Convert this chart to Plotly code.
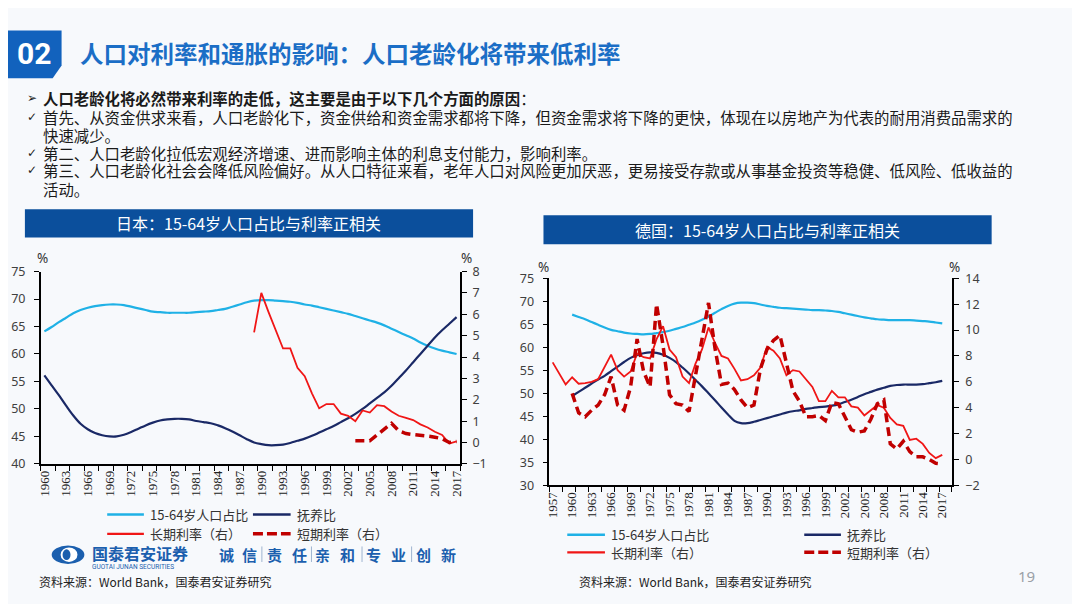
import plotly.graph_objects as go

# ---------------- data ----------------
jp_years = list(range(1960, 2018))
jp_working = [64.1, 64.9, 65.8, 66.6, 67.4, 68.0, 68.4, 68.7, 68.9, 69.0,
              69.0, 68.9, 68.6, 68.3, 68.0, 67.7, 67.6, 67.5, 67.5, 67.5,
              67.5, 67.6, 67.7, 67.8, 68.0, 68.2, 68.6, 69.0, 69.4, 69.7,
              69.8, 69.8, 69.7, 69.6, 69.5, 69.3, 69.0, 68.8, 68.5, 68.2,
              67.9, 67.6, 67.3, 66.9, 66.5, 66.1, 65.7, 65.2, 64.6, 64.0,
              63.4, 62.8, 62.1, 61.5, 61.0, 60.6, 60.3, 60.0]
jp_dependency = [56.1, 54.3, 52.5, 50.6, 48.8, 47.3, 46.3, 45.6, 45.2, 45.0,
                 45.0, 45.3, 45.8, 46.4, 47.0, 47.5, 47.9, 48.1, 48.2, 48.2,
                 48.1, 47.8, 47.6, 47.4, 47.0, 46.5, 45.9, 45.2, 44.5, 43.9,
                 43.6, 43.4, 43.4, 43.5, 43.8, 44.2, 44.6, 45.1, 45.7, 46.3,
                 46.9, 47.6, 48.3, 49.1, 50.0, 51.0, 52.0, 53.0, 54.2, 55.6,
                 57.0, 58.5, 60.0, 61.5, 63.0, 64.3, 65.5, 66.7]
jp_long_years = list(range(1989, 2018))
jp_long = [5.15, 7.0, 6.1, 5.2, 4.4, 4.4, 3.5, 3.1, 2.3, 1.6,
           1.8, 1.8, 1.35, 1.25, 1.0, 1.5, 1.4, 1.75, 1.7, 1.45,
           1.25, 1.15, 1.05, 0.85, 0.7, 0.5, 0.35, -0.05, 0.05]
jp_short_years = list(range(2003, 2018))
jp_short = [0.08, 0.08, 0.08, 0.35, 0.65, 0.9, 0.55, 0.42, 0.37, 0.35,
            0.3, 0.25, 0.18, 0.0, 0.05]

de_years = list(range(1960, 2018))
de_working = [67.1, 66.6, 66.1, 65.5, 64.9, 64.3, 63.8, 63.5, 63.2, 63.0,
              62.9, 62.8, 62.9, 63.1, 63.3, 63.6, 64.0, 64.4, 64.9, 65.4,
              66.0, 66.7, 67.5, 68.3, 69.0, 69.5, 69.7, 69.7, 69.6, 69.3,
              69.0, 68.8, 68.6, 68.5, 68.4, 68.3, 68.2, 68.1, 68.1, 68.0,
              67.9, 67.7, 67.4, 67.1, 66.8, 66.5, 66.3, 66.1, 66.0, 65.9,
              65.9, 65.9, 65.9, 65.8, 65.7, 65.6, 65.4, 65.2]
de_dependency = [49.4, 50.3, 51.2, 52.1, 53.0, 53.8, 54.8, 55.8, 56.8, 57.7,
                 58.3, 58.7, 58.9, 58.8, 58.4, 57.7, 56.8, 55.6, 54.3, 52.9,
                 51.5, 50.0, 48.5, 46.9, 45.4, 44.0, 43.5, 43.5, 43.8, 44.2,
                 44.6, 45.0, 45.4, 45.8, 46.1, 46.3, 46.6, 46.8, 47.0, 47.1,
                 47.3, 47.6, 48.1, 48.6, 49.2, 49.8, 50.3, 50.8, 51.2, 51.6,
                 51.8, 51.9, 51.9, 51.9, 52.0, 52.2, 52.4, 52.7]
de_long_years = list(range(1957, 2018))
de_long = [7.5, 6.6, 5.8, 6.35, 5.85, 5.9, 6.0, 6.2, 7.1, 8.1,
           6.9, 6.4, 6.8, 8.2, 7.9, 7.8, 9.3, 10.3, 8.5, 7.9,
           6.4, 5.9, 7.4, 8.5, 10.2, 9.0, 8.0, 7.8, 7.0, 6.1,
           6.2, 6.5, 7.1, 8.7, 8.4, 7.8, 6.5, 6.9, 6.8, 6.2,
           5.6, 4.5, 4.5, 5.3, 4.8, 4.8, 4.1, 4.0, 3.4, 3.8,
           4.2, 4.0, 3.2, 2.7, 2.6, 1.5, 1.6, 1.2, 0.5, 0.1, 0.35]
de_short_years = list(range(1960, 2018))
de_short = [5.1, 3.6, 3.3, 3.8, 4.2, 5.0, 6.4, 4.2, 3.8, 5.6,
            9.3, 6.8, 5.6, 12.0, 8.8, 5.0, 4.3, 4.2, 3.7, 6.6,
            9.3, 12.1, 8.6, 5.8, 5.9, 5.4, 4.6, 4.0, 4.2, 7.0,
            8.5, 9.2, 9.6, 7.3, 5.3, 4.5, 3.3, 3.3, 3.4, 3.0,
            4.4, 4.3, 3.3, 2.3, 2.1, 2.2, 3.1, 4.3, 4.6, 1.2,
            0.8, 1.4, 0.6, 0.2, 0.2, 0.0, -0.3, -0.35]

jp_xlabels = list(range(1960, 2018, 3))
de_xlabels = list(range(1957, 2018, 3))

series_names = ["15-64岁人口占比", "抚养比", "长期利率（右）", "短期利率（右）"]

title_text = "人口对利率和通胀的影响：人口老龄化将带来低利率"
bullet_marks = ["➢", "✓", "", "✓", "✓", ""]
bullet_lines = [
    "<b>人口老龄化将必然带来利率的走低，这主要是由于以下几个方面的原因</b>：",
    "首先、从资金供求来看，人口老龄化下，资金供给和资金需求都将下降，但资金需求将下降的更快，体现在以房地产为代表的耐用消费品需求的",
    "快速减少。",
    "第二、人口老龄化拉低宏观经济增速、进而影响主体的利息支付能力，影响利率。",
    "第三、人口老龄化社会会降低风险偏好。从人口特征来看，老年人口对风险更加厌恶，更易接受存款或从事基金投资等稳健、低风险、低收益的",
    "活动。",
]
jp_title = "日本：15-64岁人口占比与利率正相关"
de_title = "德国：15-64岁人口占比与利率正相关"
source_text = "资料来源：World Bank，国泰君安证券研究"

# ---------------- geometry ----------------
# The page keeps the browser's default 8px body margin, so the figure is
# 16px smaller than the window and every position is offset by 8px.
PAGE_W, PAGE_H = 1080, 612
OFF = 8
W, H = PAGE_W - 2 * OFF, PAGE_H - 2 * OFF

LB = "#1fb1e6"
NAVY = "#1a2966"
RED = "#f01616"
DRED = "#c00000"
BARBLUE = "#0b4f9c"
CJK = "Noto Sans CJK SC"


def X(px):
    return (px - OFF) / W


def Y(py):
    return 1 - (py - OFF) / H


fig = go.Figure()

# Japan
fig.add_trace(go.Scatter(x=jp_years, y=jp_working, xaxis="x", yaxis="y", mode="lines",
                         line=dict(color=LB, width=2.2, shape="spline"), name=series_names[0]))
fig.add_trace(go.Scatter(x=jp_years, y=jp_dependency, xaxis="x", yaxis="y", mode="lines",
                         line=dict(color=NAVY, width=2.2, shape="spline"), name=series_names[1]))
fig.add_trace(go.Scatter(x=jp_long_years, y=jp_long, xaxis="x", yaxis="y2", mode="lines",
                         line=dict(color=RED, width=1.8), name=series_names[2]))
fig.add_trace(go.Scatter(x=jp_short_years, y=jp_short, xaxis="x", yaxis="y2", mode="lines",
                         line=dict(color=DRED, width=3.5, dash="9px,5px"), name=series_names[3]))
# Germany
fig.add_trace(go.Scatter(x=de_years, y=de_working, xaxis="x2", yaxis="y3", mode="lines",
                         line=dict(color=LB, width=2.2, shape="spline"), name=series_names[0]))
fig.add_trace(go.Scatter(x=de_years, y=de_dependency, xaxis="x2", yaxis="y3", mode="lines",
                         line=dict(color=NAVY, width=2.2, shape="spline"), name=series_names[1]))
fig.add_trace(go.Scatter(x=de_long_years, y=de_long, xaxis="x2", yaxis="y4", mode="lines",
                         line=dict(color=RED, width=1.8), name=series_names[2]))
fig.add_trace(go.Scatter(x=de_short_years, y=de_short, xaxis="x2", yaxis="y4", mode="lines",
                         line=dict(color=DRED, width=3.5, dash="9px,5px"), name=series_names[3]))

xfont = dict(family="Liberation Serif", size=13, color="#222222")
yfont = dict(family="Noto Sans", size=12.5, color="#404040")


def xaxis_cfg(dom, rng, labels, anchor, t0):
    return dict(domain=dom, range=rng, anchor=anchor, tickmode="array",
                tickvals=labels, ticktext=[str(v) for v in labels], tickangle=-90,
                ticks="", showline=True, linecolor="black", linewidth=1.5,
                showgrid=False, zeroline=False, tickfont=xfont, fixedrange=True,
                minor=dict(tickmode="linear", tick0=t0, dtick=2, ticks="outside",
                           ticklen=5, tickcolor="black", tickwidth=1.2, showgrid=False))


def yaxis_cfg(dom, rng, dt, anchor, side="left", overlay=None, standoff=2):
    d = dict(range=rng, dtick=dt, tick0=rng[0], anchor=anchor, side=side,
             ticks="outside", ticklen=5, tickwidth=1.2, tickcolor="black",
             showline=True, linecolor="black", linewidth=1.5, showgrid=False,
             zeroline=False, tickfont=yfont, fixedrange=True, ticklabelstandoff=standoff)
    if overlay:
        d["overlaying"] = overlay
    else:
        d["domain"] = dom
    return d


jp_ydom = [Y(468), Y(270)]
de_ydom = [Y(490), Y(277)]

fig.update_layout(
    width=W, height=H, autosize=False,
    margin=dict(l=0, r=0, t=0, b=0),
    paper_bgcolor="#f7f9fc", plot_bgcolor="rgba(0,0,0,0)",
    showlegend=False,
    xaxis=xaxis_cfg([X(36), X(459)], [1959.5, 2017.5], jp_xlabels, "y", 1959.5),
    yaxis=yaxis_cfg(jp_ydom, [40, 75], 5, "x", standoff=6),
    yaxis2=yaxis_cfg(None, [-1, 8], 1, "x", side="right", overlay="y", standoff=3),
    xaxis2=xaxis_cfg([X(549), X(955)], [1956.5, 2018.5], de_xlabels, "y3", 1956.5),
    yaxis3=yaxis_cfg(de_ydom, [30, 75], 5, "x2", standoff=6),
    yaxis4=yaxis_cfg(None, [-2, 14], 2, "x2", side="right", overlay="y3", standoff=4),
)

shapes = []
annotations = []


def rect(x0, y0, x1, y1, color, layer="below"):
    shapes.append(dict(type="rect", xref="paper", yref="paper", x0=X(x0), x1=X(x1),
                       y0=Y(y1), y1=Y(y0), fillcolor=color, line=dict(width=0), layer=layer))


def hline(x0, x1, y, color, width, dash="solid"):
    shapes.append(dict(type="line", xref="paper", yref="paper", x0=X(x0), x1=X(x1),
                       y0=Y(y), y1=Y(y), line=dict(color=color, width=width, dash=dash)))


def text(x, y, s, size, color="#222222", family=CJK, xanchor="left", yanchor="middle", align="left"):
    annotations.append(dict(x=X(x), y=Y(y), xref="paper", yref="paper", text=s,
                            showarrow=False, xanchor=xanchor, yanchor=yanchor, align=align,
                            borderpad=0,
                            font=dict(family=family, size=size, color=color)))


# header box "02"
shapes.append(dict(type="path", xref="paper", yref="paper",
                   path=f"M {X(0)},{Y(22)} L {X(57)},{Y(22)} L {X(57)},{Y(58)} L {X(48)},{Y(71)} L {X(0)},{Y(71)} Z",
                   fillcolor="#1262bd", line=dict(width=0), layer="below"))
text(29, 46, "<b>02</b>", 30, "white", "Roboto", xanchor="center")
text(75, 45, "<b>" + title_text + "</b>", 23.5, "#1b6ec6")

# bullets
bullet_y = [91, 111, 129, 148, 166, 185]
for mark, s, yy in zip(bullet_marks, bullet_lines, bullet_y):
    if mark:
        text(27, yy, mark, 12, "#222222", "DejaVu Sans", xanchor="center")
    text(37, yy, s, 15.4, "#1a1a1a")

# chart title bars
rect(20, 206, 472, 235, BARBLUE)
text(246, 220.5, jp_title, 16, "white", xanchor="center")
rect(543, 212, 995, 242, BARBLUE)
text(769, 227, de_title, 16, "white", xanchor="center")

# percent labels
for (xx, yy) in [(38, 256), (465, 256), (543, 265), (958, 265)]:
    text(xx, yy, "%", 13.5, "#333333", "Noto Sans", xanchor="center")

# legends
leg_styles = [(LB, 2.5, "solid"), (NAVY, 2.5, "solid"), (RED, 2.2, "solid"), (DRED, 3.5, "10px,4px")]
jp_leg_pos = [(103, 140, 520), (250, 288, 520), (103, 140, 540), (250, 288, 540)]
de_leg_pos = [(567, 605, 541), (806, 843, 541), (567, 605, 559), (806, 843, 559)]
for pos_list in (jp_leg_pos, de_leg_pos):
    for (x0, x1, yy), (c, w, d), name in zip(pos_list, leg_styles, series_names):
        hline(x0, x1, yy, c, w, d)
        text(x1 + 5, yy, name, 13, "#333333")

# logo
shapes.append(dict(type="circle", xref="paper", yref="paper", x0=X(47), x1=X(80),
                   y0=Y(571), y1=Y(552), fillcolor="#1b5fae", line=dict(width=0)))
shapes.append(dict(type="circle", xref="paper", yref="paper", x0=X(56), x1=X(73),
                   y0=Y(569), y1=Y(554), fillcolor="white", line=dict(width=0)))
shapes.append(dict(type="circle", xref="paper", yref="paper", x0=X(58), x1=X(66),
                   y0=Y(567), y1=Y(556), fillcolor="#1b5fae", line=dict(width=0)))
text(87, 559.5, "<b>国泰君安证券</b>", 16, "#1b5fae")
text(87, 574.5, "GUOTAI JUNAN SECURITIES", 6.5, "#1b5fae", "Roboto")
slogan = [("诚", 223), ("信", 247), ("责", 272), ("任", 297), ("亲", 320),
          ("和", 345), ("专", 372), ("业", 397), ("创", 422), ("新", 447)]
for ch, xx in slogan:
    text(xx, 561, "<b>" + ch + "</b>", 15, "#1b5fae", xanchor="center")
for xx in (259, 309, 360, 410):
    shapes.append(dict(type="line", xref="paper", yref="paper", x0=X(xx), x1=X(xx),
                       y0=Y(569), y1=Y(553), line=dict(color="#9fb4d0", width=1)))

# sources and page number
text(33, 589, source_text, 12, "#222222")
text(578, 589, source_text, 12, "#222222")
text(1030, 583, "19", 15, "#9aa0a6", "Noto Sans", xanchor="center")

fig.update_layout(shapes=shapes, annotations=annotations)
fig.write_html("out.html", config={"displayModeBar": False})
